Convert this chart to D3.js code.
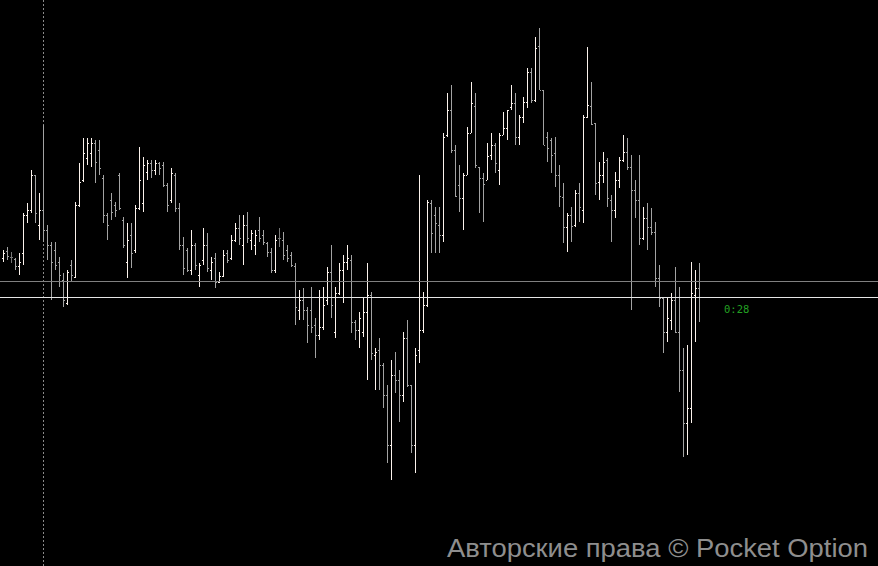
<!DOCTYPE html>
<html>
<head>
<meta charset="utf-8">
<script src="https://cdn.jsdelivr.net/npm/d3@7"></script>
<style>
  html, body { margin: 0; padding: 0; background: #000; overflow: hidden; }
  svg { display: block; }
</style>
</head>
<body>
<svg id="chart" width="878" height="566"></svg>
<script>
// ---- data (prices) ----
const high = [650,653,648,642,647,687,697,730,725,707,775,675,658,658,643,627,630,640,698,737,762,762,762,760,760,725,687,707,698,727,683,677,677,695,753,
743,740,740,740,738,738,717,732,727,697,663,652,670,657,637,672,667,643,647,628,650,650,665,677,685,685,688,670,670,683,670,658,652,665,672,668,655,648,
637,610,612,593,613,582,610,613,633,655,613,637,645,655,645,580,588,602,637,608,552,562,537,515,540,548,530,568,580,515,552,725,608,700,
700,693,693,767,807,815,755,735,727,773,818,807,733,727,757,767,757,767,788,790,815,807,785,803,832,832,863,872,810,768,762,763,735,
717,687,693,710,717,785,853,818,777,738,748,742,705,728,743,765,762,745,720,745,693,697,692,678,635,603,602,607,633,613,552,555,638,630,637]
  .map(v => 1.08 + v / 1e5);
const low = [638,640,637,630,625,635,677,687,677,660,658,640,600,630,613,593,595,618,622,693,718,735,733,717,725,677,660,680,683,690,652,622,632,647,690,
688,720,722,725,725,713,688,697,688,650,625,628,625,630,613,635,628,620,612,617,623,637,640,658,655,635,657,650,645,658,655,643,627,627,653,640,638,633,
575,580,580,557,567,542,560,570,595,582,562,605,597,630,567,560,552,563,520,540,510,510,492,437,420,507,478,498,513,447,427,537,567,593,
647,647,647,658,763,747,703,688,670,725,767,732,687,678,720,740,727,715,765,760,790,755,755,777,792,797,798,810,755,738,727,713,693,
657,648,658,673,678,677,782,775,705,700,717,693,658,682,712,738,730,590,682,655,660,650,665,613,593,547,558,570,567,508,443,445,477,558,578]
  .map(v => 1.08 + v / 1e5);
const open = [642,649,643,641,634,647,685,690,725,675,690,670,655,650,638,620,597,635,623,695,720,742,747,757,750,722,685,700,695,725,680,638,665,650,692,
697,728,737,730,737,735,715,700,725,692,655,650,630,655,625,640,655,630,642,618,624,647,642,660,672,655,675,660,655,670,665,657,648,630,662,660,650,645,
634,590,600,590,590,575,565,573,600,628,568,607,630,638,640,578,570,568,588,605,545,550,535,505,455,525,520,505,562,515,455,550,570,595,
697,685,675,665,765,790,750,715,702,725,767,794,733,722,720,745,755,730,765,772,793,797,763,783,798,828,800,854,810,763,760,747,725,
703,673,685,675,707,690,783,794,777,718,725,740,700,690,720,740,748,733,710,700,662,682,673,668,622,602,568,580,600,568,530,477,492,605,612]
  .map(v => 1.08 + v / 1e5);
const close = [647,644,643,634,638,685,690,725,687,690,670,655,638,635,625,600,628,625,695,718,747,757,757,738,732,685,675,688,690,692,655,660,647,692,720,
735,737,730,737,732,715,695,727,692,655,632,630,655,635,635,655,632,638,618,624,645,640,660,672,662,675,662,667,665,662,658,648,630,660,662,645,642,635,
593,600,590,575,573,565,573,595,628,595,607,630,638,642,578,570,582,588,605,547,548,535,505,455,525,520,505,562,515,455,545,570,595,698,
667,677,665,763,790,750,704,702,725,767,797,735,722,716,744,755,737,765,772,790,797,763,783,798,828,800,852,810,755,752,745,725,704,
673,685,674,707,693,783,795,776,717,725,738,702,690,720,740,748,733,710,700,662,682,673,668,622,602,568,582,600,568,530,477,492,607,612,603]
  .map(v => 1.08 + v / 1e5);
const guideLevel = 1.08619;      // grey horizontal level
const markerIndex = 10;          // dotted vertical marker bar
const timerLabel = "0:28";
const watermark = "Авторские права © Pocket Option";

// ---- chart ----
const W = 878, H = 566;
const svg = d3.select("#chart");
svg.append("rect").attr("width", W).attr("height", H).attr("fill", "#000");

const n = close.length;
const x = d3.scaleLinear().domain([0, n - 1]).range([3, 3 + 4 * (n - 1)]);
const y = d3.scaleLinear().domain([1.08334, 1.08900]).range([H, 0]);

const colorOf = i => close[i] > open[i] ? "#fbf2ec" : (close[i] < open[i] ? "#a3a3a3" : "#777777");

// dotted vertical marker
svg.append("line")
  .attr("x1", x(markerIndex) + 0.5).attr("x2", x(markerIndex) + 0.5)
  .attr("y1", 0).attr("y2", H)
  .attr("stroke", "#8a8a8a").attr("stroke-width", 1)
  .attr("stroke-dasharray", "2,2");

const idx = d3.range(n);
const g = svg.append("g").attr("shape-rendering", "crispEdges");
g.selectAll("rect.stem").data(idx).join("rect")
  .attr("class", "stem")
  .attr("x", i => x(i))
  .attr("y", i => Math.round(y(high[i])))
  .attr("width", 1)
  .attr("height", i => Math.max(1, Math.round(y(low[i])) - Math.round(y(high[i]))))
  .attr("fill", colorOf);
g.selectAll("rect.o").data(idx).join("rect")
  .attr("class", "o")
  .attr("x", i => x(i) - 1)
  .attr("y", i => Math.round(y(open[i])))
  .attr("width", 1).attr("height", 1)
  .attr("fill", colorOf);
g.selectAll("rect.c").data(idx).join("rect")
  .attr("class", "c")
  .attr("x", i => x(i) + 1)
  .attr("y", i => Math.round(y(close[i])))
  .attr("width", 1).attr("height", 1)
  .attr("fill", colorOf);

// horizontal levels
svg.append("line")
  .attr("x1", 0).attr("x2", W)
  .attr("y1", Math.round(y(guideLevel)) + 0.5).attr("y2", Math.round(y(guideLevel)) + 0.5)
  .attr("stroke", "#808080").attr("stroke-width", 1);
const lastY = Math.round(y(close[n - 1])) + 0.5;
svg.append("line")
  .attr("x1", 0).attr("x2", W)
  .attr("y1", lastY).attr("y2", lastY)
  .attr("stroke", "#e6e6e6").attr("stroke-width", 1.2);

// timer
svg.append("text")
  .attr("x", 724).attr("y", lastY + 15)
  .attr("font-family", "DejaVu Sans Mono, monospace")
  .attr("font-size", 10.5)
  .attr("fill", "#23a023")
  .text(timerLabel);

// watermark
svg.append("text")
  .attr("x", 447).attr("y", 557)
  .attr("font-family", "Liberation Sans, Arial, sans-serif")
  .attr("font-size", 25)
  .attr("textLength", 421)
  .attr("lengthAdjust", "spacingAndGlyphs")
  .attr("fill", "#8e8e8e")
  .text(watermark);
</script>
</body>
</html>
